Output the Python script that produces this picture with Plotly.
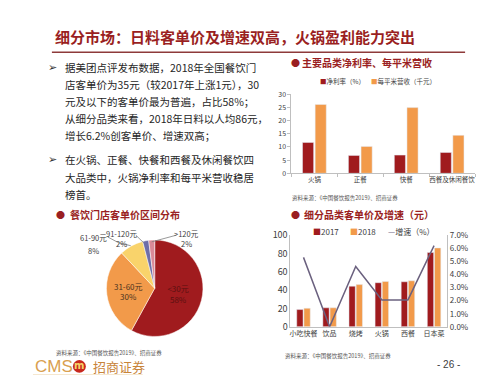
import plotly.graph_objects as go

W, H = 500, 375
FONT = "Noto Sans CJK SC"
DARK_RED = "#A01B1E"
ORANGE = "#F29A4A"
TITLE_RED = "#9A1F22"

# ---- data: chart 1 ----
cat1 = ["火锅", "正餐", "快餐", "西餐及休闲餐饮"]
net_margin = [11.7, 6.8, 6.9, 7.9]
rev_per_sqm = [26.1, 10.2, 24.9, 14.4]

# ---- data: pie ----
pie_labels = ["<30元", "31-60元", "61-90元", "91-120元", ">120元"]
pie_values = [58, 30, 8, 2, 2]
pie_colors = [DARK_RED, ORANGE, "#F9D36B", "#6E6DA8", "#D98A98"]

# ---- data: chart 3 ----
cat3 = ["小吃快餐", "饮品", "烧烤", "火锅", "西餐", "日本菜"]
price_2017 = [18.8, 20.7, 44.3, 48.1, 49.1, 81]
price_2018 = [20.2, 20.7, 46.0, 49.5, 50.2, 86]
growth = [0.053, 0.0, 0.046, 0.0205, 0.0205, 0.062]

def P(x, y):
    return x / W, 1 - y / H

fig = go.Figure()

# chart 1 bars
fig.add_trace(go.Bar(x=cat1, y=net_margin, name="净利率（%）", marker_color=DARK_RED,
                     xaxis="x", yaxis="y", showlegend=False))
fig.add_trace(go.Bar(x=cat1, y=rev_per_sqm, name="每平米营收（千元）", marker_color=ORANGE,
                     xaxis="x", yaxis="y", showlegend=False))

# pie
fig.add_trace(go.Pie(labels=pie_labels, values=pie_values, sort=False, direction="clockwise",
                     rotation=0, marker=dict(colors=pie_colors, line=dict(color="white", width=0.5)),
                     texttemplate=["%{label}<br>%{percent:.0%}", "%{label}<br>%{percent:.0%}", "", "", ""],
                     textposition="inside", insidetextorientation="horizontal",
                     textfont=dict(family=FONT, size=8, color=["#5a1010", "#4a3320", "#333", "#333", "#333"]),
                     domain=dict(x=[96 / W, 196 / W], y=[1 - 333 / H, 1 - 233 / H]),
                     showlegend=False, hoverinfo="label+percent"))

# chart 3
fig.add_trace(go.Bar(x=cat3, y=price_2017, name="2017", marker_color=DARK_RED,
                     xaxis="x2", yaxis="y2", showlegend=False))
fig.add_trace(go.Bar(x=cat3, y=price_2018, name="2018", marker_color=ORANGE,
                     xaxis="x2", yaxis="y2", showlegend=False))
fig.add_trace(go.Scatter(x=cat3, y=growth, name="增速（%）", mode="lines",
                         line=dict(color="#6B617F", width=1.5),
                         xaxis="x2", yaxis="y3", showlegend=False))

axis_common = dict(showgrid=False, zeroline=False, showline=True, linecolor="#BFBFBF", linewidth=1,
                   tickfont=dict(family=FONT, size=7, color="#404040"))

fig.update_layout(
    width=W, height=H, margin=dict(l=0, r=0, t=0, b=0),
    paper_bgcolor="white", plot_bgcolor="white",
    barmode="group", bargap=0.45, bargroupgap=0.12,
    xaxis=dict(domain=[283 / W, 467 / W], anchor="y", type="category", tickangle=0,
               ticks="outside", ticklen=3, tickcolor="#BFBFBF", tickson="boundaries",
               **{**axis_common, "tickfont": dict(family=FONT, size=6.5, color="#404040")}),
    yaxis=dict(domain=[1 - 164 / H, 1 - 82 / H], anchor="x", range=[0, 30], dtick=5,
               ticks="outside", ticklen=3, tickcolor="#BFBFBF", **axis_common),
    xaxis2=dict(domain=[282 / W, 439 / W], anchor="y2", type="category", tickangle=0,
                ticks="", **{**axis_common, "tickfont": dict(family=FONT, size=7, color="#404040")}),
    yaxis2=dict(domain=[1 - 323 / H, 1 - 228 / H], anchor="x2", range=[0, 100], dtick=20,
                ticks="", **{**axis_common, "tickfont": dict(family=FONT, size=9, color="#404040")}),
    yaxis3=dict(overlaying="y2", side="right", anchor="x2", range=[0, 0.07], dtick=0.01,
                tickformat=".1%", ticks="", **{**axis_common, "tickfont": dict(family=FONT, size=8, color="#404040")}),
)

ann = []
def text(x, y, s, size=12, color="#262626", anchor="left", bold=False, family=FONT):
    px, py = P(x, y)
    if bold:
        s = "<b>" + s + "</b>"
    ann.append(dict(x=px, y=py, xref="paper", yref="paper", text=s, showarrow=False,
                    xanchor=anchor, yanchor="middle",
                    font=dict(family=family, size=size, color=color)))

# title
text(44, 22, "细分市场：日料客单价及增速双高，火锅盈利能力突出", size=15, color=TITLE_RED, bold=True)
fig.add_shape(type="line", xref="paper", yref="paper", x0=43 / W, x1=457 / W,
              y0=1 - 38.5 / H, y1=1 - 38.5 / H, line=dict(color="#8E3A3A", width=1.5))

# bullet text
lines1 = ["据美团点评发布数据，2018年全国餐饮门",
          "店客单价为35元（较2017年上涨1元），30",
          "元及以下的客单价最为普遍，占比58%；",
          "从细分品类来看，2018年日料以人均86元，",
          "增长6.2%创客单价、增速双高；"]
lines2 = ["在火锅、正餐、快餐和西餐及休闲餐饮四",
          "大品类中，火锅净利率和每平米营收稳居",
          "榜首。"]
ys1 = [54, 72, 89.5, 107, 125]
ys2 = [150, 168, 186]
text(37, 54, "➢", size=11, color="#333", family="DejaVu Sans")
text(37, 150, "➢", size=11, color="#333", family="DejaVu Sans")
for s, y in zip(lines1, ys1):
    text(54, y, s, size=10.5)
for s, y in zip(lines2, ys2):
    text(54, y, s, size=10.5)

# section titles
for bx, tx, y, s in [(281, 292, 49, "主要品类净利率、每平米营收"),
                     (45, 59, 207, "餐饮门店客单价区间分布"),
                     (281, 294, 207, "细分品类客单价及增速（元）")]:
    text(bx, y, "●", size=9, color=TITLE_RED)
    text(tx, y, s, size=10, color=TITLE_RED, bold=True)

# legends
text(310, 68, f'<span style="color:{DARK_RED}">■</span>净利率（%）', size=6.5, color="#404040")
text(361, 68, f'<span style="color:{ORANGE}">■</span>每平米营收（千元）', size=6.5, color="#404040")
text(303, 224, f'<span style="color:{DARK_RED}">■</span>2017', size=8, color="#404040")
text(340, 224, f'<span style="color:{ORANGE}">■</span>2018', size=8, color="#404040")
text(378, 224, '<span style="color:#6B617F">—</span>增速（%）', size=8, color="#404040")

# sources
src = "资料来源：《中国餐饮报告2019》、招商证券"
text(282, 190, src, size=5.5, color="#555")
text(45, 350, src, size=5.5, color="#555")
text(275, 353, src, size=5.5, color="#555")

# pie outside labels
text(85, 230, "61-90元", size=7.5, color="#404040", anchor="center")
text(85, 244, "8%", size=7.5, color="#404040", anchor="center")
text(113, 226, "91-120元", size=7.5, color="#404040", anchor="center")
text(113, 237, "2%", size=7.5, color="#404040", anchor="center")
text(178, 226, ">120元", size=7.5, color="#404040", anchor="center")
text(178, 237, "2%", size=7.5, color="#404040", anchor="center")
for (x0, y0, x1, y1) in [(99, 230, 110, 236), (110, 236, 122, 239),
                         (127, 228, 135, 236), (168, 228, 143, 235)]:
    fig.add_shape(type="line", xref="paper", yref="paper", x0=x0 / W, y0=1 - y0 / H,
                  x1=x1 / W, y1=1 - y1 / H, line=dict(color="#7F7F7F", width=0.8))

# footer
text(24, 364, "CMS", size=17, color="#D9A050", family="Liberation Sans")
fig.add_shape(type="circle", xref="paper", yref="paper", x0=64 / W, x1=77 / W,
              y0=1 - 370.5 / H, y1=1 - 357.5 / H, fillcolor="#C8281E", line=dict(width=0))
text(70.5, 363.5, "m", size=10, color="#F6D36A", anchor="center", bold=True, family="DejaVu Sans")
text(82, 364, "招商证券", size=13, color="#C8843A")
fig.add_shape(type="line", xref="paper", yref="paper", x0=24 / W, x1=134 / W,
              y0=1 - 373 / H, y1=1 - 373 / H, line=dict(color="#E8C890", width=1))
text(440, 362, "- 26 -", size=10, color="#404040", anchor="center", family="Liberation Sans")

fig.update_layout(annotations=ann)
fig.write_html("out.html")
